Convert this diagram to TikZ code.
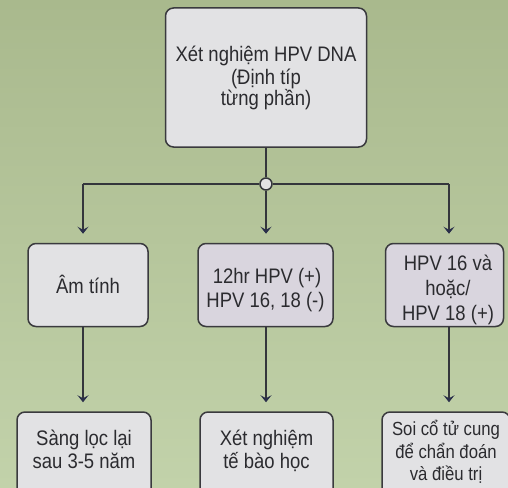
\documentclass[tikz,border=0pt]{standalone}
\usepackage{fontspec}
\setmainfont{Liberation Sans}
\newfontfamily\cardfont[FakeStretch=0.88]{Liberation Sans}
\usetikzlibrary{arrows.meta}
\definecolor{bgtop}{HTML}{A9B98D}
\definecolor{bgbot}{HTML}{C2D2AA}
\definecolor{boxline}{HTML}{3A3A3E}
\definecolor{boxfill}{HTML}{E2E2E4}
\definecolor{boxlav}{HTML}{D9D5DE}
\definecolor{txt}{HTML}{2B2B2F}
\definecolor{wire}{HTML}{34363C}
\definecolor{tip}{HTML}{2A2F4A}
\tikzset{
  card/.style={draw=boxline, line width=1.5pt, fill=boxfill, rounded corners=8pt, inner sep=0pt},
  lbl/.style={anchor=base, text=txt, inner sep=0pt, font=\cardfont\fontsize{21}{22}\selectfont},
  small lbl/.style={lbl, font=\cardfont\fontsize{19}{20}\selectfont},
  wirel/.style={draw=wire, line width=1.5pt},
  arr/.style={wirel, -{Stealth[length=7pt,width=11pt,inset=3pt,color=tip]}, shorten >=9pt},
  hubdot/.style={circle, draw=wire, line width=1.5pt, fill=boxfill, minimum size=12pt, inner sep=0pt}
}
\begin{document}
\begin{tikzpicture}[x=1pt,y=-1pt]
  \useasboundingbox (0,0) rectangle (508,487);
  \clip (0,0) rectangle (508,487);
  % backdrop
  \shade[top color=bgtop, bottom color=bgbot] (0,0) rectangle (508,487);

  % first test
  \node[card, minimum width=201pt, minimum height=139pt] (top) at (266,77.5) {};
  \node[lbl] at (266,61.5) {Xét nghiệm HPV DNA};
  \node[lbl] at (266,84) {(Định típ};
  \node[lbl] at (266,105.5) {từng phần)};

  \node[hubdot] (hub) at (266,184) {};
  \coordinate (L) at (83,184);
  \coordinate (R) at (449,184);

  % results of the test
  \node[card, minimum width=120pt, minimum height=83pt] (m1) at (88,285) {};
  \node[lbl] at (88,293) {Âm tính};

  \node[card, fill=boxlav, minimum width=135pt, minimum height=83pt] (m2) at (265.5,285) {};
  \node[lbl] at (267,283) {12hr HPV (+)};
  \node[lbl] at (265.5,307) {HPV 16, 18 (-)};

  \node[card, fill=boxlav, minimum width=118pt, minimum height=83pt] (m3) at (444.5,285) {};
  \node[lbl] at (448,270) {HPV 16 và};
  \node[lbl] at (448,295) {hoặc/};
  \node[lbl] at (448,320) {HPV 18 (+)};

  % follow-up actions
  \node[card, minimum width=134pt, minimum height=90pt] (b1) at (84,457) {};
  \node[lbl] at (84,445) {Sàng lọc lại};
  \node[lbl] at (84,468) {sau 3-5 năm};

  \node[card, minimum width=133pt, minimum height=90pt] (b2) at (266.5,457) {};
  \node[lbl] at (266.5,445) {Xét nghiệm};
  \node[lbl] at (266.5,468) {tế bào học};

  \node[card, minimum width=128pt, minimum height=90pt] (b3) at (446,457) {};
  \node[small lbl] at (446,435) {Soi cổ tử cung};
  \node[small lbl] at (446,458) {để chẩn đoán};
  \node[small lbl] at (446,480.5) {và điều trị};

  % connectors
  \draw[wirel] (top) -- (hub);
  \draw[wirel] (hub) -- (L);
  \draw[wirel] (hub) -- (R);
  \draw[arr] (L) -- (L |- m1.north);
  \draw[arr] (hub) -- (hub |- m2.north);
  \draw[arr] (R) -- (R |- m3.north);
  \draw[arr] (L |- m1.south) -- (L |- b1.north);
  \draw[arr] (hub |- m2.south) -- (hub |- b2.north);
  \draw[arr] (R |- m3.south) -- (R |- b3.north);
\end{tikzpicture}
\end{document}
